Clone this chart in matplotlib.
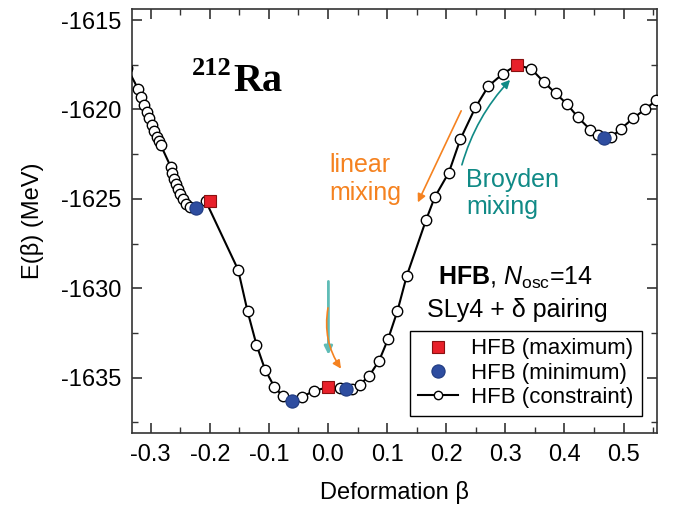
import numpy as np
import matplotlib.pyplot as plt
from matplotlib.lines import Line2D
from matplotlib.ticker import MultipleLocator

plt.rcParams['font.family'] = ['Liberation Sans', 'DejaVu Sans']
plt.rcParams['mathtext.fontset'] = 'custom'
plt.rcParams['mathtext.rm'] = 'Liberation Sans'
plt.rcParams['mathtext.it'] = 'Liberation Sans:italic'
plt.rcParams['mathtext.bf'] = 'Liberation Sans:bold'

# constrained HFB curve (beta, E)
beta_c = [-0.340, -0.321, -0.3164, -0.3113, -0.3068, -0.3024, -0.2983, -0.2939,
          -0.2898, -0.2865, -0.2831, -0.2661, -0.2639, -0.2606, -0.2572, -0.2543,
          -0.2504, -0.2458, -0.2402, -0.2335, -0.2238, -0.2064, -0.152, -0.136,
          -0.121, -0.1065, -0.091, -0.0766, -0.0613, -0.044, -0.024, 0.000,
          0.0205, 0.031, 0.040, 0.054, 0.070, 0.0865, 0.1017, 0.1175, 0.1333,
          0.166, 0.1807, 0.2044, 0.224, 0.2495, 0.2715, 0.296, 0.3199, 0.344,
          0.3646, 0.385, 0.404, 0.4228, 0.444, 0.456, 0.4675, 0.479, 0.495,
          0.516, 0.536, 0.555, 0.570]
E_c = [-1617.66, -1618.87, -1619.32, -1619.75, -1620.12, -1620.49, -1620.87, -1621.20,
       -1621.52, -1621.74, -1621.98, -1623.20, -1623.56, -1623.88, -1624.18, -1624.46,
       -1624.74, -1625.00, -1625.28, -1625.45, -1625.50, -1625.15, -1628.97, -1631.30,
       -1633.16, -1634.55, -1635.50, -1636.04, -1636.28, -1636.10, -1635.73, -1635.55,
       -1635.60, -1635.63, -1635.62, -1635.39, -1634.89, -1634.05, -1632.84, -1631.27, -1629.30,
       -1626.17, -1624.90, -1623.53, -1621.66, -1619.88, -1618.69, -1618.00, -1617.51, -1617.74,
       -1618.45, -1619.10, -1619.69, -1620.44, -1621.15, -1621.45, -1621.60, -1621.55, -1621.10,
       -1620.50, -1620.00, -1619.50, -1619.10]

# HFB maxima and minima
beta_max = [-0.1996, 0.000, 0.3199]
E_max = [-1625.13, -1635.54, -1617.51]
beta_min = [-0.2238, -0.0613, 0.031, 0.4675]
E_min = [-1625.50, -1636.28, -1635.63, -1621.60]

C_RED = '#e8202a'
C_BLUE = '#2e4da0'
C_ORANGE = '#f58220'
C_TEAL = '#108a86'
C_TEAL_LIGHT = '#5fbcb6'

fig = plt.figure(figsize=(6.74, 5.05), dpi=100)
ax = fig.add_axes([0.1963, 0.1432, 0.7789, 0.8384])

ax.plot(beta_c, E_c, '-', color='black', lw=1.5, marker='o', ms=7.5,
        mfc='white', mec='black', mew=1.0, zorder=3)
ax.plot(beta_min, E_min, 'o', ms=9.5, mfc=C_BLUE, mec='#1f3a80', mew=0.8, zorder=4)
ax.plot(beta_max, E_max, 's', ms=8.5, mfc=C_RED, mec='#8a1010', mew=0.8, zorder=5)

ax.set_xlim(-0.331, 0.557)
ax.set_ylim(-1638.08, -1614.4)
ax.xaxis.set_minor_locator(MultipleLocator(0.05))
ax.yaxis.set_minor_locator(MultipleLocator(2.5))
ax.set_xticks([-0.3, -0.2, -0.1, 0.0, 0.1, 0.2, 0.3, 0.4, 0.5])
ax.set_xticklabels(['-0.3', '-0.2', '-0.1', '0.0', '0.1', '0.2', '0.3', '0.4', '0.5'])
ax.set_yticks([-1635, -1630, -1625, -1620, -1615])
ax.set_yticklabels(['-1635', '-1630', '-1625', '-1620', '-1615'])
ax.tick_params(which='both', direction='in', top=True, right=True, color='#333333')
ax.tick_params(which='major', length=7, width=1.2, labelsize=17)
ax.tick_params(axis='x', which='major', pad=8)
ax.tick_params(axis='y', which='major', pad=8)
ax.tick_params(which='minor', length=4, width=1.0)
for s in ax.spines.values():
    s.set_color('#333333')
    s.set_linewidth(1.2)

ax.set_xlabel('Deformation β', fontsize=17, labelpad=11)
ax.set_ylabel('E(β) (MeV)', fontsize=17, labelpad=12)

# nucleus label
ax.text(0.114, 0.845, '212', transform=ax.transAxes, fontsize=19,
        family='Liberation Serif', fontweight='bold', va='baseline', ha='left')
ax.text(0.192, 0.807, 'Ra', transform=ax.transAxes, fontsize=29,
        family='Liberation Serif', fontweight='bold', va='baseline', ha='left')

ax.text(0.318, -1629.4, r'$\mathbf{HFB}$, $\mathit{N}_{\rm osc}$=14', fontsize=18,
        ha='center', va='center')
ax.text(0.320, -1631.2, 'SLy4 + δ pairing', fontsize=18, ha='center', va='center')

ax.text(0.003, -1622.45, 'linear\nmixing', color=C_ORANGE, fontsize=18,
        ha='left', va='top', linespacing=1.2)
ax.text(0.234, -1623.3, 'Broyden\nmixing', color=C_TEAL, fontsize=18,
        ha='left', va='top', linespacing=1.15)

# arrows
ax.annotate('', xy=(0.152, -1625.2), xytext=(0.2253, -1620.08),
            arrowprops=dict(arrowstyle='-|>', color=C_ORANGE, lw=1.2,
                            mutation_scale=12, shrinkA=0, shrinkB=0))
ax.annotate('', xy=(0.308, -1618.35), xytext=(0.2265, -1623.1),
            arrowprops=dict(arrowstyle='-|>', color=C_TEAL, lw=1.2,
                            mutation_scale=12, shrinkA=0, shrinkB=0,
                            connectionstyle='arc3,rad=-0.12'))
ax.annotate('', xy=(0.0007, -1633.72), xytext=(0.0007, -1629.62),
            arrowprops=dict(arrowstyle='-|>', color=C_TEAL_LIGHT, lw=2.0,
                            mutation_scale=12, shrinkA=0, shrinkB=0), zorder=2)
ax.annotate('', xy=(0.022, -1634.5), xytext=(0.0, -1631.1),
            arrowprops=dict(arrowstyle='-|>', color=C_ORANGE, lw=1.2,
                            mutation_scale=12, shrinkA=0, shrinkB=0,
                            connectionstyle='arc3,rad=0.2'), zorder=2)

handles = [
    Line2D([], [], ls='none', marker='s', ms=8.5, mfc=C_RED, mec='#8a1010', mew=0.8),
    Line2D([], [], ls='none', marker='o', ms=9.5, mfc=C_BLUE, mec='#1f3a80', mew=0.8),
    Line2D([], [], ls='-', color='black', lw=1.5, marker='o', ms=6,
           mfc='white', mec='black', mew=1.0),
]
labels = ['HFB (maximum)', 'HFB (minimum)', 'HFB (constraint)']
leg = ax.legend(handles, labels, loc='lower right', bbox_to_anchor=(0.970, 0.040),
                fontsize=16, frameon=True, fancybox=False, framealpha=1,
                edgecolor='black', handlelength=1.8, handletextpad=0.6,
                labelspacing=0.15, borderpad=0.35, borderaxespad=0)
leg.get_frame().set_linewidth(1.0)

fig.savefig('out.png', dpi=100)
